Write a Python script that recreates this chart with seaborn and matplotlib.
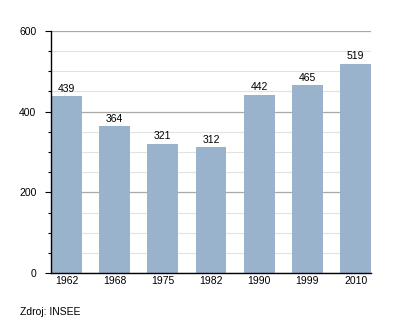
import matplotlib
matplotlib.use("Agg")
import matplotlib.pyplot as plt
from matplotlib.ticker import MultipleLocator
import seaborn as sns
import pandas as pd

years = ["1962", "1968", "1975", "1982", "1990", "1999", "2010"]
population = [439, 364, 321, 312, 442, 465, 519]
source_note = "Zdroj: INSEE"

sns.set_theme(style="white")
plt.rcParams["font.family"] = ["Liberation Sans", "DejaVu Sans"]

df = pd.DataFrame({"year": years, "pop": population})

fig = plt.figure(figsize=(4.0, 3.23), dpi=100)
ax = fig.add_axes([51 / 400, 1 - 273 / 323, 320 / 400, 242 / 323])

sns.barplot(data=df, x="year", y="pop", color="#9ab3cc", width=0.64,
            saturation=1, linewidth=0, edgecolor="none", ax=ax)

ax.set_ylim(0, 600)
ax.set_xlim(-0.32, 6.32)
ax.yaxis.set_major_locator(MultipleLocator(200))
ax.yaxis.set_minor_locator(MultipleLocator(50))
ax.grid(axis="y", which="major", color="#a8a8a8", linewidth=0.9)
ax.grid(axis="y", which="minor", color="#e2e2e2", linewidth=0.8)
ax.set_axisbelow(True)

for side in ("top", "right"):
    ax.spines[side].set_visible(False)
for side in ("left", "bottom"):
    ax.spines[side].set_color("black")
    ax.spines[side].set_linewidth(1.0)
    ax.spines[side].set_zorder(5)

ax.tick_params(axis="y", which="major", left=True, length=4.5, width=0.8,
               color="black", labelcolor="black", labelsize=7.5, pad=6)
ax.tick_params(axis="y", which="minor", left=True, length=2.2, width=0.8,
               color="black")
ax.tick_params(axis="x", bottom=False, length=0, labelcolor="black",
               labelsize=7.5, pad=2.5)
ax.set_xlabel("")
ax.set_ylabel("")

for i, v in enumerate(population):
    ax.text(i, v + 6, str(v), ha="center", va="bottom", fontsize=7.5,
            color="black")

fig.text(20 / 400, 1 - 312 / 323, source_note, ha="left", va="center",
         fontsize=7.5, color="black")

fig.savefig("out.png", dpi=100)
